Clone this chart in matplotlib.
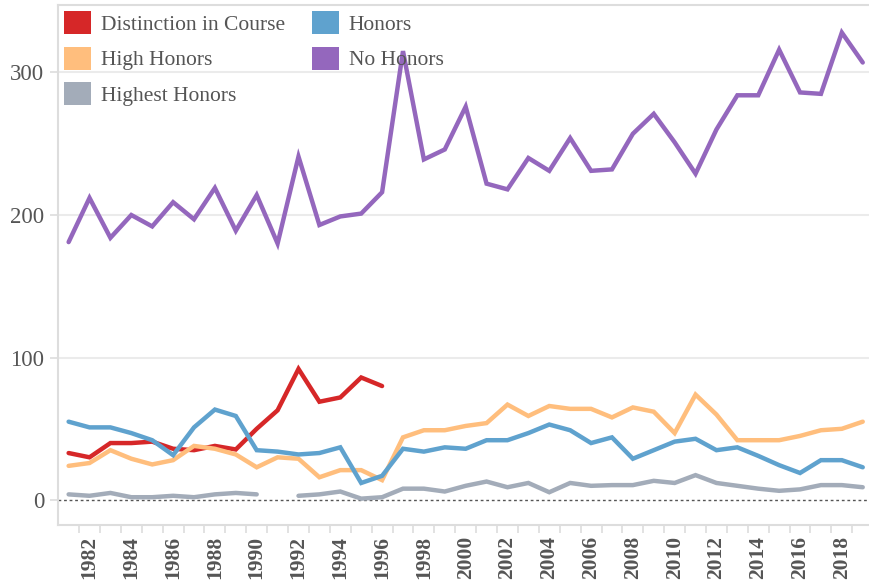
import numpy as np
import matplotlib
matplotlib.use("Agg")
import matplotlib.pyplot as plt
from matplotlib.patches import Patch

nan = np.nan
years = list(range(1981, 2020))

distinction = [33, 30, 40, 40, 41, 36, 35, 38, 35.5, 50, 63, 92, 69, 72, 86, 80] + [nan] * 23
honors = [55, 51, 51, 47, 42, 31.5, 51, 63.5, 59, 35, 34, 32, 33, 37, 12, 17, 36, 34, 37,
          36, 42, 42, 47, 53, 49, 40, 44, 29, 35, 41, 43, 35, 37, 31, 24.5, 19, 28, 28, 23]
high_honors = [24, 26, 35, 29, 25, 28, 38, 36, 32, 23, 30, 29, 16, 21, 21, 14, 44, 49, 49,
               52, 54, 67, 59, 66, 64, 64, 58, 65, 62, 47, 74, 60, 42, 42, 42, 45, 49, 50, 55]
no_honors = [181, 212, 184, 200, 192, 209, 197, 219, 189, 214, 180, 241, 193, 199, 201, 216,
             315, 239, 246, 276, 222, 218, 240, 231, 254, 231, 232, 257, 271, 251, 229, 260,
             284, 284, 316, 286, 285, 328, 307]
highest_honors = [4, 3, 5, 2, 2, 3, 2, 4, 5, 4, nan, 3, 4, 6, 1, 2, 8, 8, 6,
                  10, 13, 9, 12, 5.5, 12, 10, 10.5, 10.5, 13.5, 12, 17.5, 12, 10, 8, 6.5, 7.5,
                  10.5, 10.5, 9]

series = [
    ("Distinction in Course", distinction, "#d62728"),
    ("High Honors", high_honors, "#ffbe7d"),
    ("Highest Honors", highest_honors, "#a3acb9"),
    ("Honors", honors, "#5fa2ce"),
    ("No Honors", no_honors, "#9467bd"),
]

plt.rcParams["font.family"] = ["Liberation Serif", "DejaVu Serif"]
text_color = "#555555"

fig = plt.figure(figsize=(8.69, 5.87), dpi=100)
ax = fig.add_axes([0.0667, 0.1056, 0.9333, 0.886])

for name, vals, color in series:
    ax.plot(years, vals, color=color, lw=3.2, solid_capstyle="round",
            solid_joinstyle="miter", zorder=3)

ax.axhline(0, color="#555555", lw=1.0, ls=(0, (2, 2)), zorder=2)
for yv in [100, 200, 300]:
    ax.axhline(yv, color="#ebebeb", lw=1.5, zorder=1)

ax.set_xlim(1980.49, 2019.3)
ax.set_ylim(-17.5, 347.4)

ax.set_yticks([0, 100, 200, 300])
ax.tick_params(axis="y", length=6, width=1.2, color="#dddddd", labelsize=16.5,
               labelcolor=text_color, pad=4)

ax.set_xticks(list(range(1982, 2020, 2)))
ax.set_xticklabels([str(y) for y in range(1982, 2020, 2)], rotation=90,
                   fontweight="bold", fontsize=15.5, color=text_color)
ax.set_xticks(np.arange(1981.5, 2019.0, 1.0), minor=True)
ax.tick_params(axis="x", which="major", length=0, pad=8)
ax.tick_params(axis="x", which="minor", length=6, width=1.2, color="#dddddd")

for side in ["left", "bottom", "top"]:
    ax.spines[side].set_color("#dddddd")
    ax.spines[side].set_linewidth(1.5)
ax.spines["right"].set_visible(False)

handles = [Patch(facecolor=c, edgecolor="none") for _, _, c in series]
labels = [n for n, _, _ in series]
leg = ax.legend(handles, labels, ncol=2, loc="upper left", bbox_to_anchor=(0.0, 1.0),
                frameon=False, fontsize=15.5, handlelength=1.25, handleheight=1.25,
                handletextpad=0.45, columnspacing=1.25, labelspacing=0.55,
                borderaxespad=0.2, borderpad=0.1)
for t in leg.get_texts():
    t.set_color(text_color)

fig.savefig("out.png", dpi=100)
